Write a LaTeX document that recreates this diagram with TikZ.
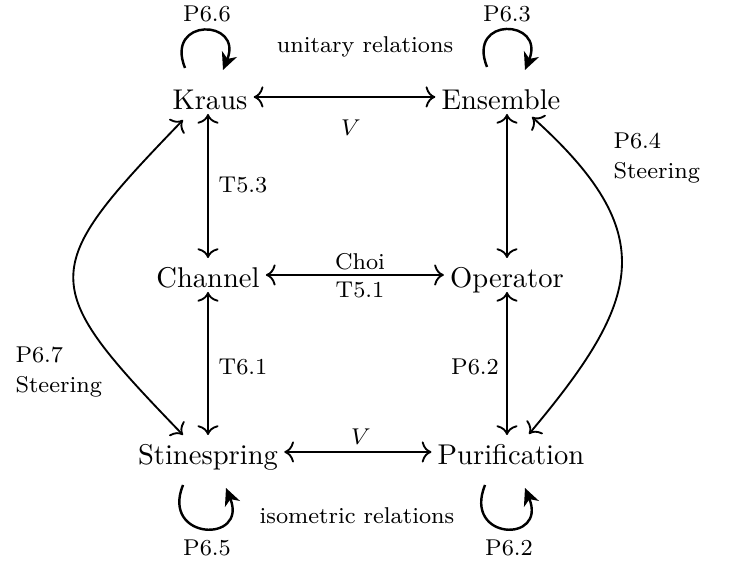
\documentclass[tikz,border=0pt]{standalone}
\usetikzlibrary{arrows.meta}

\tikzset{
  rep/.style={font=\fontsize{10}{12}\selectfont, inner xsep=2pt, inner ysep=1.5pt,
              text height=8.5pt, text depth=0pt},
  lbl/.style={font=\fontsize{8}{10.5}\selectfont, inner sep=0pt},
  rel/.style={line width=0.65pt, {To[length=3.4pt,width=7.4pt]}-{To[length=3.4pt,width=7.4pt]}},
  selfrel/.style={line width=0.85pt, -{Stealth[length=6pt,width=5.6pt,inset=1.8pt]}}
}

\begin{document}
\begin{tikzpicture}[x=0.35pt, y=0.35pt]
\useasboundingbox (0,0) rectangle (732,565);

% the six representations
\node[rep] (Kraus)        at (210,468) {Kraus};
\node[rep] (Ensemble)     at (501,468) {Ensemble};
\node[rep] (Channel)      at (208,290) {Channel};
\node[rep] (Operator)     at (507,290) {Operator};
\node[rep] (Stinespring)  at (208,113) {Stinespring};
\node[rep] (Purification) at (511,113) {Purification};

% horizontal relations
\draw[rel] (Kraus) -- (Ensemble);
\draw[rel] (Channel) -- (Operator);
\draw[rel] (Stinespring) -- (Purification);

% vertical relations
\draw[rel] (Channel.north |- Kraus.south) -- (Channel.north);
\draw[rel] (Channel.south) -- (Channel.south |- Stinespring.north);
\draw[rel] (Operator.north |- Ensemble.south) -- (Operator.north);
\draw[rel] (Operator.south) -- (Operator.south |- Purification.north);

% steering arcs
\draw[rel] ([shift={(-27,-23)}]Kraus.center)
  .. controls +(226:210) and +(134:210) .. ([shift={(-25,17)}]Stinespring.center);
\draw[rel] ([shift={(31,-20)}]Ensemble.center)
  .. controls +(-42:175) and +(50:175) .. ([shift={(18,18)}]Purification.center);

% self relations
\draw[selfrel] ([shift={(-25,29)}]Kraus.center)
  .. controls +(112:55) and +(68:55) .. ([shift={(13,27)}]Kraus.center);
\draw[selfrel] ([shift={(-14,30)}]Ensemble.center)
  .. controls +(112:55) and +(68:55) .. ([shift={(24,27)}]Ensemble.center);
\draw[selfrel] ([shift={(-25,-33)}]Stinespring.center)
  .. controls +(-112:60) and +(-68:60) .. ([shift={(18,-36)}]Stinespring.center);
\draw[selfrel] ([shift={(-26,-33)}]Purification.center)
  .. controls +(-112:60) and +(-68:60) .. ([shift={(14,-36)}]Purification.center);

% labels
\node[lbl] (unitary)   at (365,518) {unitary relations};
\node[lbl] (isometric) at (357,49)  {isometric relations};
\node[lbl] (vtop)      at (351,437) {$V$};
\node[lbl] (vbot)      at (361,128) {$V$};
\node[lbl] (choi)      at (360,303) {Choi};
\node[lbl] (tfiveone)  at (360,275) {T5.1};
\node[lbl] (tfivethree) at (243,380) {T5.3};
\node[lbl] (tsixone)   at (243,198) {T6.1};
\node[lbl] (psixtwoa)  at (475,198) {P6.2};
\node[lbl] (psixsix)   at (207,551) {P6.6};
\node[lbl] (psixthree) at (507,551) {P6.3};
\node[lbl] (psixfive)  at (207,17)  {P6.5};
\node[lbl] (psixtwob)  at (509,17)  {P6.2};
\node[lbl, align=left, anchor=west] (steerleft)  at (15,193)  {P6.7\\Steering};
\node[lbl, align=left, anchor=west] (steerright) at (613,407) {P6.4\\Steering};
\end{tikzpicture}
\end{document}
